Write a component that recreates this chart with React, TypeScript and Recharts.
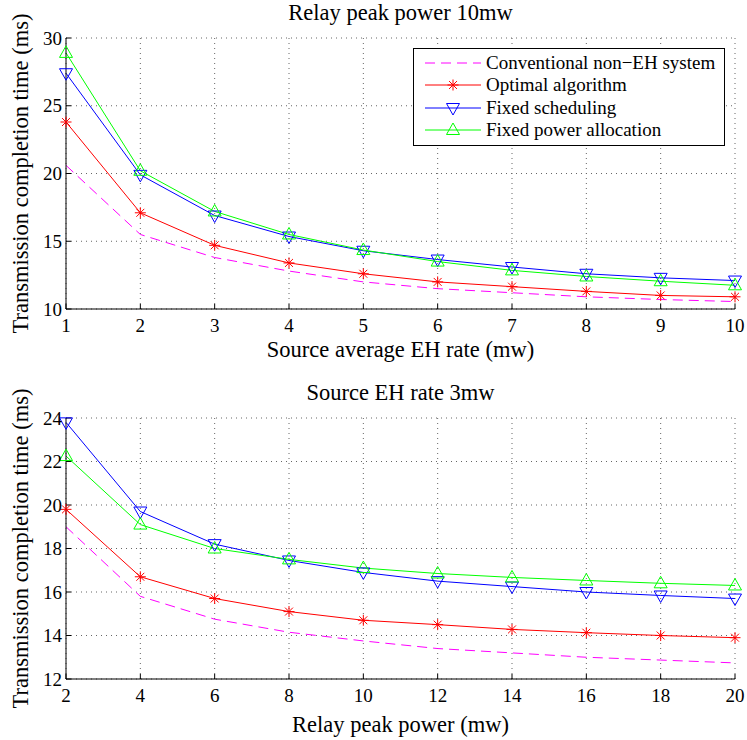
import { LineChart, Line, XAxis, YAxis, CartesianGrid, Legend } from "recharts";

const FONT = '"Liberation Serif", "DejaVu Serif", serif';

// Top panel: relay peak power 10mw, x = source average EH rate (mw)
const topX = [1, 2, 3, 4, 5, 6, 7, 8, 9, 10];
const topConventional = [20.6, 15.5, 13.8, 12.8, 12.0, 11.5, 11.2, 10.9, 10.7, 10.55];
const topOptimal = [23.8, 17.1, 14.7, 13.4, 12.6, 12.0, 11.65, 11.3, 11.0, 10.9];
const topFixedSched = [27.4, 19.9, 16.9, 15.35, 14.3, 13.65, 13.1, 12.6, 12.3, 12.1];
const topFixedPower = [28.9, 20.2, 17.2, 15.5, 14.35, 13.5, 12.85, 12.4, 12.05, 11.75];
const topYTicks = [10, 15, 20, 25, 30];

// Bottom panel: source EH rate 3mw, x = relay peak power (mw)
const bottomX = [2, 4, 6, 8, 10, 12, 14, 16, 18, 20];
const bottomConventional = [19.0, 15.8, 14.75, 14.15, 13.75, 13.4, 13.2, 13.0, 12.87, 12.74];
const bottomOptimal = [19.8, 16.7, 15.7, 15.1, 14.7, 14.5, 14.28, 14.13, 14.0, 13.9];
const bottomFixedSched = [23.8, 19.7, 18.2, 17.45, 16.9, 16.5, 16.25, 16.0, 15.84, 15.7];
const bottomFixedPower = [22.25, 19.1, 18.0, 17.5, 17.1, 16.85, 16.67, 16.53, 16.4, 16.3];
const bottomYTicks = [12, 14, 16, 18, 20, 22, 24];

const SERIES = [
  { key: "conv", name: "Conventional non\u2212EH system", color: "#ff00ff", marker: "none", dash: "10 6" },
  { key: "opt", name: "Optimal algorithm", color: "#ff0000", marker: "star", dash: undefined },
  { key: "sched", name: "Fixed scheduling", color: "#0000ff", marker: "down", dash: undefined },
  { key: "power", name: "Fixed power allocation", color: "#00ff00", marker: "up", dash: undefined },
];

function buildRows(x: number[], conv: number[], opt: number[], sched: number[], power: number[]) {
  return x.map((v, i) => ({ x: v, conv: conv[i], opt: opt[i], sched: sched[i], power: power[i] }));
}

// MATLAB-ish marker glyphs
function Marker({ cx, cy, kind, color }: { cx: number; cy: number; kind: string; color: string }) {
  if (kind === "star") {
    const r = 5.5;
    const d = r * 0.72;
    return (
      <g stroke={color} strokeWidth={1}>
        <line x1={cx - r} y1={cy} x2={cx + r} y2={cy} />
        <line x1={cx} y1={cy - r} x2={cx} y2={cy + r} />
        <line x1={cx - d} y1={cy - d} x2={cx + d} y2={cy + d} />
        <line x1={cx - d} y1={cy + d} x2={cx + d} y2={cy - d} />
      </g>
    );
  }
  if (kind === "down") {
    return (
      <polygon
        points={`${cx - 6.5},${cy - 4.5} ${cx + 6.5},${cy - 4.5} ${cx},${cy + 7}`}
        fill="none"
        stroke={color}
        strokeWidth={1}
      />
    );
  }
  if (kind === "up") {
    return (
      <polygon
        points={`${cx - 6.5},${cy + 4.5} ${cx + 6.5},${cy + 4.5} ${cx},${cy - 7}`}
        fill="none"
        stroke={color}
        strokeWidth={1}
      />
    );
  }
  return null;
}

function LegendBox() {
  return (
    <div
      style={{
        border: "1px solid #000",
        background: "#fff",
        width: 312,
        height: 98,
        boxSizing: "border-box",
        paddingTop: 3,
        fontFamily: FONT,
        fontSize: 19,
        color: "#000",
      }}
    >
      {SERIES.map((s) => (
        <div key={s.key} style={{ display: "flex", alignItems: "center", height: 22.3, whiteSpace: "nowrap" }}>
          <svg width={72} height={20} style={{ flex: "none" }}>
            <line x1={11} y1={10} x2={67} y2={10} stroke={s.color} strokeWidth={1} strokeDasharray={s.dash} />
            <Marker cx={39} cy={10} kind={s.marker} color={s.color} />
          </svg>
          <span>{s.name}</span>
        </div>
      ))}
    </div>
  );
}

function Panel({
  rows,
  xTicks,
  yTicks,
  xDomain,
  yDomain,
  xLabel,
  top,
  labelOffset,
  showLegend,
}: {
  rows: Array<Record<string, number>>;
  xTicks: number[];
  yTicks: number[];
  xDomain: [number, number];
  yDomain: [number, number];
  xLabel: string;
  top: number;
  labelOffset: number;
  showLegend: boolean;
}) {
  const tickStyle = { fontFamily: FONT, fontSize: 19, fill: "#000" };
  const labelStyle = { fontFamily: FONT, fontSize: 22.5, fill: "#000" };
  return (
    <LineChart
      width={747}
      height={370}
      data={rows}
      margin={{ top: top, right: 12, bottom: 31, left: 10 }}
      style={{ fontFamily: FONT }}
    >
      <CartesianGrid stroke="#666" strokeDasharray="1 4" />
      <XAxis
        dataKey="x"
        type="number"
        domain={xDomain}
        ticks={xTicks}
        height={30}
        tickSize={-5}
        tickMargin={15}
        stroke="#000"
        tick={tickStyle}
        label={{ value: xLabel, position: "bottom", offset: labelOffset, style: labelStyle }}
      />
      <XAxis xAxisId="top" dataKey="x" type="number" orientation="top" domain={xDomain} ticks={xTicks} height={0} tickSize={-5} tick={false} stroke="#000" />
      <YAxis
        type="number"
        domain={yDomain}
        ticks={yTicks}
        width={56}
        tickSize={-5}
        tickMargin={9}
        stroke="#000"
        tick={tickStyle}
        label={{
          value: "Transmission completion time (ms)",
          angle: -90,
          position: "insideLeft",
          offset: 10,
          style: { ...labelStyle, textAnchor: "middle" },
        }}
      />
      <YAxis yAxisId="right" orientation="right" type="number" domain={yDomain} ticks={yTicks} width={0} tickSize={-5} tick={false} stroke="#000" />
      {SERIES.map((s) => (
        <Line
          key={s.key}
          dataKey={s.key}
          name={s.name}
          type="linear"
          stroke={s.color}
          strokeWidth={1}
          strokeDasharray={s.dash}
          isAnimationActive={false}
          dot={(p: any) => <Marker key={`${s.key}-${p.index}`} cx={p.cx} cy={p.cy} kind={s.marker} color={s.color} />}
          activeDot={false}
        />
      ))}
      {showLegend && (
        <Legend
          layout="vertical"
          align="center"
          verticalAlign="middle"
          wrapperStyle={{ left: 413, top: 48, width: 312, height: 98 }}
          content={() => <LegendBox />}
        />
      )}
    </LineChart>
  );
}

const titleStyle: React.CSSProperties = {
  position: "absolute",
  left: 66,
  width: 669,
  textAlign: "center",
  fontFamily: FONT,
  fontSize: 22.5,
  color: "#000",
  lineHeight: "26px",
  whiteSpace: "nowrap",
};

export default function App() {
  const topRows = buildRows(topX, topConventional, topOptimal, topFixedSched, topFixedPower);
  const bottomRows = buildRows(bottomX, bottomConventional, bottomOptimal, bottomFixedSched, bottomFixedPower);
  return (
    <div style={{ position: "absolute", left: 0, top: 0, width: 747, height: 740, background: "#fff" }}>
      <div style={{ position: "absolute", left: 0, top: 0 }}>
        <Panel
          rows={topRows}
          xTicks={topX}
          yTicks={topYTicks}
          xDomain={[1, 10]}
          yDomain={[10, 30]}
          xLabel="Source average EH rate (mw)"
          top={38}
          labelOffset={2}
          showLegend={true}
        />
      </div>
      <div style={{ position: "absolute", left: 0, top: 370 }}>
        <Panel
          rows={bottomRows}
          xTicks={bottomX}
          yTicks={bottomYTicks}
          xDomain={[2, 20]}
          yDomain={[12, 24]}
          xLabel="Relay peak power (mw)"
          top={48}
          labelOffset={7}
          showLegend={false}
        />
      </div>
      <div style={{ ...titleStyle, top: 0 }}>Relay peak power 10mw</div>
      <div style={{ ...titleStyle, top: 380 }}>Source EH rate 3mw</div>
    </div>
  );
}
